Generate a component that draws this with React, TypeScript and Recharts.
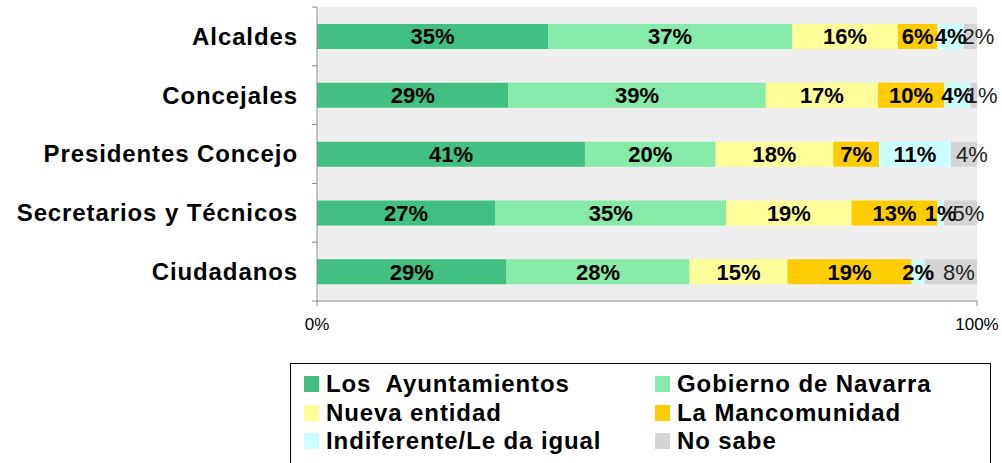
import { BarChart, Bar, XAxis, YAxis, CartesianGrid, LabelList } from "recharts";

const categories = [
  "Alcaldes",
  "Concejales",
  "Presidentes Concejo",
  "Secretarios y Técnicos",
  "Ciudadanos",
];

const seriesNames = [
  "Los  Ayuntamientos",
  "Gobierno de Navarra",
  "Nueva entidad",
  "La Mancomunidad",
  "Indiferente/Le da igual",
  "No sabe",
];

const ayuntamientos = [35, 29, 41, 27, 29];
const gobierno = [37, 39, 20, 35, 28];
const nuevaEntidad = [16, 17, 18, 19, 15];
const mancomunidad = [6, 10, 7, 13, 19];
const indiferente = [4, 4, 11, 1, 2];
const noSabe = [2, 1, 4, 5, 8];

const xTicks = [0, 1];

const COLORS = ["#42c083", "#86eaa8", "#ffff99", "#ffcc00", "#ccffff", "#d4d4d4"];
const KEYS = ["s0", "s1", "s2", "s3", "s4", "s5"];

const seriesValues = [ayuntamientos, gobierno, nuevaEntidad, mancomunidad, indiferente, noSabe];

const data = categories.map((name, i) => {
  const row: Record<string, string | number> = { name };
  seriesValues.forEach((vals, s) => {
    row[KEYS[s]] = vals[i];
  });
  return row;
});

const FONT = '"Liberation Sans", Arial, sans-serif';
const AXIS_COLOR = "#8c8c8c";

const CHART_W = 1002;
const CHART_H = 463;
const MARGIN = { top: 7, right: 25, bottom: 132, left: 0 };
const X_AXIS_H = 30;
const BAND = (CHART_H - MARGIN.top - MARGIN.bottom - X_AXIS_H) / categories.length;

function CategoryTick(props: any) {
  const { x, y, payload, index } = props;
  const axisX = x + 19;
  return (
    <g>
      <line x1={axisX - 5} x2={axisX} y1={y - BAND / 2} y2={y - BAND / 2} stroke={AXIS_COLOR} />
      {index === categories.length - 1 && (
        <line x1={axisX - 5} x2={axisX} y1={y + BAND / 2} y2={y + BAND / 2} stroke={AXIS_COLOR} />
      )}
      <text
        x={x}
        y={y}
        dy="0.35em"
        textAnchor="end"
        fontFamily={FONT}
        fontWeight="bold"
        fontSize={24}
        letterSpacing={0.9}
        fill="#000"
      >
        {payload.value}
      </text>
    </g>
  );
}

export default function App() {
  return (
    <div
      style={{
        position: "absolute",
        left: 0,
        top: 0,
        width: CHART_W,
        height: CHART_H,
        background: "#fff",
        fontFamily: FONT,
        overflow: "hidden",
      }}
    >
      <BarChart
        width={CHART_W}
        height={CHART_H}
        data={data}
        layout="vertical"
        stackOffset="expand"
        barCategoryGap="29%"
        margin={MARGIN}
      >
        <CartesianGrid fill="#eeeeee" horizontal={false} vertical={false} />
        <XAxis
          type="number"
          domain={[0, 1]}
          ticks={xTicks}
          height={X_AXIS_H}
          tickFormatter={(v: number) => `${Math.round(v * 100)}%`}
          tick={{ fontSize: 17, fill: "#000", fontFamily: FONT }}
          tickSize={5}
          tickMargin={12}
          stroke={AXIS_COLOR}
          interval={0}
        />
        <YAxis
          type="category"
          dataKey="name"
          width={317}
          tickSize={5}
          tickMargin={14}
          tickLine={false}
          stroke={AXIS_COLOR}
          tick={<CategoryTick />}
          interval={0}
        />
        {KEYS.map((key, s) => (
          <Bar key={key} dataKey={key} stackId="a" fill={COLORS[s]} isAnimationActive={false}>
            <LabelList
              dataKey={key}
              position="center"
              offset={0}
              formatter={(v: any) => `${v}%`}
              dx={s === 5 ? 8 : 0}
              style={{
                fontFamily: FONT,
                fontSize: 22,
                fontWeight: s === 5 ? "normal" : "bold",
                fill: s === 5 ? "#222" : "#000",
              }}
            />
          </Bar>
        ))}
      </BarChart>
      <div
        style={{
          position: "absolute",
          left: 290,
          top: 363,
          width: 701,
          height: 110,
          border: "1px solid #000",
          boxSizing: "border-box",
        }}
      >
        {seriesNames.map((name, s) => {
          const col = s % 2;
          const row = Math.floor(s / 2);
          return (
            <div
              key={name}
              style={{
                position: "absolute",
                left: col === 0 ? 13 : 364,
                top: 20 + row * 28.5 - 14,
                height: 28,
                display: "flex",
                alignItems: "center",
                whiteSpace: "pre",
              }}
            >
              <span
                style={{
                  display: "inline-block",
                  width: 15,
                  height: 16,
                  background: COLORS[s],
                  marginRight: 7,
                }}
              />
              <span
                style={{
                  fontSize: 24,
                  fontWeight: "bold",
                  letterSpacing: 0.9,
                  color: "#000",
                }}
              >
                {name}
              </span>
            </div>
          );
        })}
      </div>
    </div>
  );
}
